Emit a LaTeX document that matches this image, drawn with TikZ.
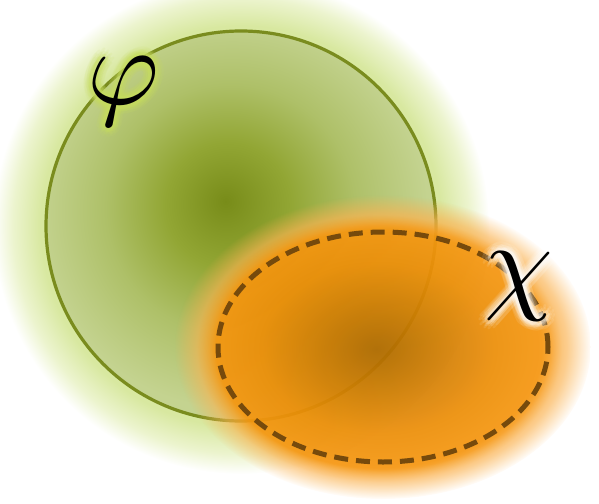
\documentclass[tikz,border=0pt]{standalone}
\usetikzlibrary{fadings}
\definecolor{gC}{RGB}{120,140,25}
\definecolor{gA}{RGB}{146,166,52}
\definecolor{gB}{RGB}{174,192,104}
\definecolor{gE}{RGB}{196,211,144}
\definecolor{gH}{RGB}{216,232,160}
\definecolor{gH2}{RGB}{236,244,206}
\definecolor{lineG}{RGB}{122,140,30}
\definecolor{oC}{RGB}{176,106,0}
\definecolor{oA}{RGB}{206,124,3}
\definecolor{oB}{RGB}{236,142,8}
\definecolor{oE}{RGB}{245,150,16}
\definecolor{oH}{RGB}{250,178,80}
\definecolor{dashB}{RGB}{118,74,12}
\definecolor{phiglow}{RGB}{200,222,95}
\pgfdeclareradialshading{ginner}{\pgfpoint{-2bp}{3.2bp}}{color(0bp)=(gC); color(8bp)=(gA); color(16bp)=(gB); color(25bp)=(gE); color(50bp)=(gE)}
\pgfdeclareradialshading{ghalo}{\pgfpointorigin}{color(0bp)=(gH); color(20.2bp)=(gH); color(23bp)=(gH2); color(25bp)=(white); color(50bp)=(white)}
\pgfdeclareradialshading{oblob}{\pgfpoint{-0.8bp}{-0.3bp}}{color(0bp)=(oC); color(7bp)=(oA); color(14bp)=(oB); color(19.6bp)=(oE); color(22bp)=(oH); color(25bp)=(oH); color(50bp)=(oH)}
\pgfdeclareradialshading{ofadeshade}{\pgfpointorigin}{color(0bp)=(pgftransparent!7); color(20bp)=(pgftransparent!7); color(22bp)=(pgftransparent!35); color(25bp)=(pgftransparent!100); color(50bp)=(pgftransparent!100)}
\pgfdeclarefading{ofade}{\pgfuseshading{ofadeshade}}
\tikzset{
  circline/.style={draw=lineG, line width=3.2pt},
  dashline/.style={draw=dashB, line width=5pt, dash pattern=on 14pt off 8pt},
  biglabel/.style={inner sep=0pt, scale=11},
}
\begin{document}
\begin{tikzpicture}[x=1pt,y=-1pt]
\useasboundingbox (0,0) rectangle (599,503);
% green halo and interior
\shade[shading=ghalo] (241,226) circle[radius=248pt];
\shade[shading=ginner] (241,226) circle[radius=195pt];
\path[circline] (241,226) circle[radius=195pt];
% orange blob with halo
\shade[shading=oblob, path fading=ofade] (383,347) ellipse[x radius=208pt, y radius=152pt];
\path[dashline] (383,347) ellipse[x radius=165pt, y radius=115pt];
% labels with glow
\foreach \r/\o in {9/0.10,6/0.14,3.5/0.2}{
  \foreach \a in {0,30,...,330}{
    \node[biglabel, text=phiglow, opacity=\o] (phig\a-\r) at ([shift={(\a:\r pt)}]123,92) {$\varphi$};
    \node[biglabel, text=white, opacity=\o] (chig\a-\r) at ([shift={(\a:\r pt)}]519,287) {$\chi$};
  }
}
\node[biglabel] (phi) at (123,92) {$\varphi$};
\node[biglabel] (chi) at (519,287) {$\chi$};
\end{tikzpicture}
\end{document}
